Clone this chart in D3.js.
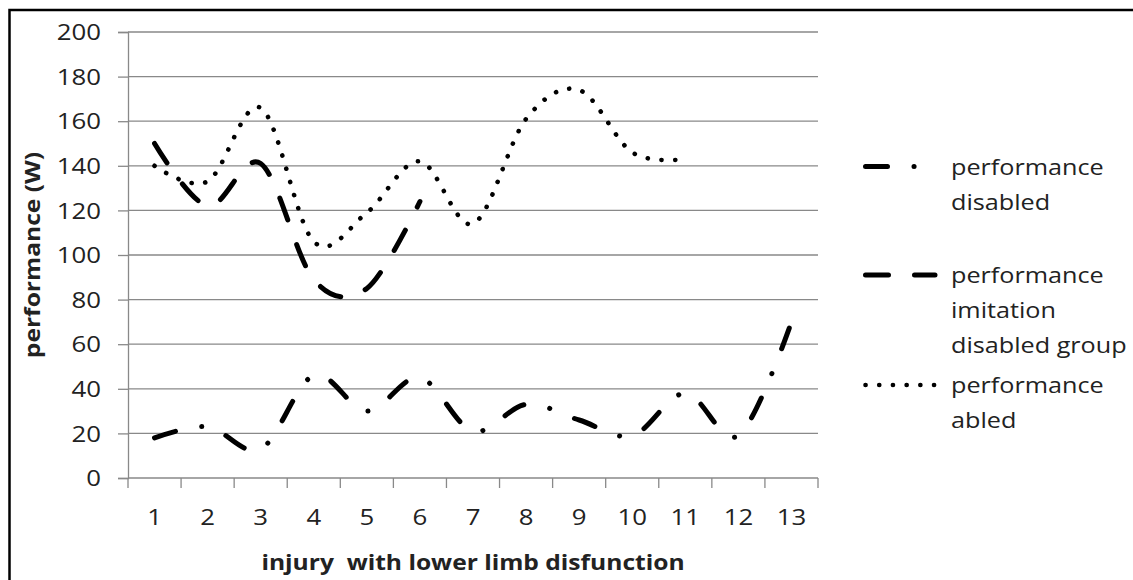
<!DOCTYPE html>
<html>
<head>
<meta charset="utf-8">
<script src="https://cdn.jsdelivr.net/npm/d3@7"></script>
<style>
  body { margin: 0; background: #fff; }
  svg { display: block; }
  text { font-family: "Open Sans", sans-serif; fill: #222; }
</style>
</head>
<body>
<svg id="chart" width="1133" height="580"></svg>
<script>
// ---- data ----
const categories = ["1", "2", "3", "4", "5", "6", "7", "8", "9", "10", "11", "12", "13"];
const disabled = [18, 23, 13, 46, 30, 45, 21, 33, 26, 19, 38, 19, 70];
const imitation = [150, 122, 141, 89, 85, 124];
const abled = [140, 133, 166, 106, 119, 142, 114, 161, 174, 146, 143];
const yTicks = [0, 20, 40, 60, 80, 100, 120, 140, 160, 180, 200];

const seriesNames = [
  ["performance", "disabled"],
  ["performance", "imitation", "disabled group"],
  ["performance", "abled"]
];

// ---- layout ----
const plotLeft = 128, plotRight = 818, plotTop = 32, plotBottom = 478;
const textStretch = 1.2;   // reference text is wide (Calibri stretched)

const svg = d3.select("#chart");

// outer frame (only top & left edges are inside the picture)
svg.append("rect")
  .attr("x", 9.5).attr("y", 10)
  .attr("width", 1140).attr("height", 600)
  .attr("fill", "none").attr("stroke", "#000").attr("stroke-width", 2.5);

let x = d3.scaleBand().domain(categories).range([plotLeft, plotRight]);
let y = d3.scaleLinear().domain([0, 200]).range([plotBottom, plotTop]);
const cx = c => x(c) + x.bandwidth() / 2;

// stretched text helper
function stxt(parent, px, py, str, anchor, size, weight) {
  const g = parent.append("g").attr("transform", `translate(${px},${py}) scale(${textStretch},1)`);
  g.append("text")
    .attr("text-anchor", anchor)
    .attr("dominant-baseline", "central")
    .style("font-size", size + "px")
    .style("font-weight", weight || "normal")
    .style("white-space", "pre")
    .text(str);
  return g;
}

// gridlines
svg.append("g")
  .selectAll("line")
  .data(yTicks.filter(d => d > 0))
  .enter().append("line")
  .attr("x1", plotLeft).attr("x2", plotRight)
  .attr("y1", d => y(d)).attr("y2", d => y(d))
  .attr("stroke", "#898989").attr("stroke-width", 1.3);

// y axis
let yAxis = svg.append("g")
  .attr("transform", `translate(${plotLeft},0)`)
  .call(d3.axisLeft(y).tickValues(yTicks).tickSize(10).tickFormat(""));
yAxis.selectAll("line, path").attr("stroke", "#898989").attr("stroke-width", 1.3);
yTicks.forEach(t => stxt(svg, 101, y(t), String(t), "end", 21.5));

// x axis
let xTickPos = categories.map(c => x(c)).concat([plotRight]);
let xAxis = svg.append("g")
  .attr("transform", `translate(0,${plotBottom})`);
xAxis.append("line")
  .attr("x1", plotLeft).attr("x2", plotRight)
  .attr("stroke", "#898989").attr("stroke-width", 1.3);
xAxis.selectAll("line.tick")
  .data(xTickPos).enter().append("line")
  .attr("class", "tick")
  .attr("x1", d => d).attr("x2", d => d)
  .attr("y1", 0).attr("y2", 10)
  .attr("stroke", "#898989").attr("stroke-width", 1.3);
categories.forEach(c => stxt(svg, cx(c), 517, c, "middle", 21.5));

// axis titles
stxt(svg, (plotLeft + plotRight) / 2, 562, "injury  with lower limb disfunction", "middle", 20.5, "bold");
svg.append("g")
  .attr("transform", `translate(32,${(plotTop + plotBottom) / 2}) rotate(-90) scale(${textStretch},1)`)
  .append("text")
  .attr("text-anchor", "middle")
  .attr("dominant-baseline", "central")
  .style("font-size", "20.5px").style("font-weight", "bold")
  .text("performance (W)");

// series lines
const line = d3.line()
  .x((d, i) => cx(categories[i]))
  .y(d => y(d))
  .curve(d3.curveCardinal.tension(0));

const styles = [
  { data: disabled, dash: "22,26.5,0.1,26.5", width: 5 },
  { data: imitation, dash: "23,26", width: 5 },
  { data: abled, dash: "0.1,13.6", width: 4.6 }
];

styles.forEach(s => {
  svg.append("path")
    .attr("d", line(s.data))
    .attr("fill", "none")
    .attr("stroke", "#000")
    .attr("stroke-width", s.width)
    .attr("stroke-linecap", "round")
    .attr("stroke-dasharray", s.dash);
});

// legend
const legendY = [166.5, 275, 385];
const lineH = 35;
styles.forEach((s, i) => {
  svg.append("line")
    .attr("x1", 865.5).attr("x2", 935)
    .attr("y1", legendY[i]).attr("y2", legendY[i])
    .attr("stroke", "#000")
    .attr("stroke-width", s.width)
    .attr("stroke-linecap", "round")
    .attr("stroke-dasharray", s.dash);
  seriesNames[i].forEach((t, j) => stxt(svg, 951, legendY[i] + j * lineH, t, "start", 21));
});
</script>
</body>
</html>
